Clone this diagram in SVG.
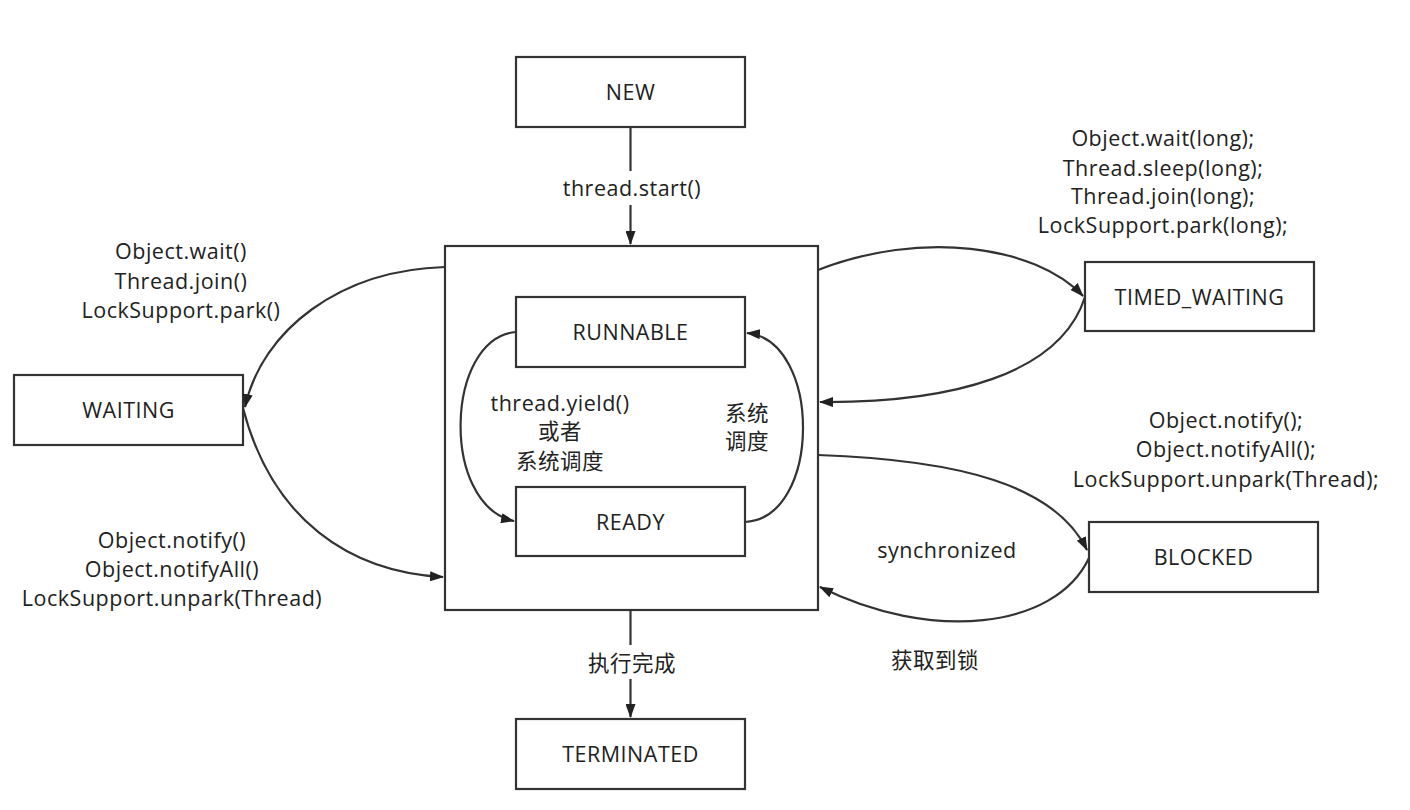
<svg xmlns="http://www.w3.org/2000/svg" width="1410" height="810" viewBox="0 0 1410 810">
<style>
.box{fill:#fff;stroke:#333;stroke-width:2.2}
.t{font-family:"Open Sans","Noto Sans CJK SC",sans-serif;font-size:21.5px;letter-spacing:0.5px;fill:#222;text-anchor:middle}
.c{fill:none;stroke:#333;stroke-width:2.2}
</style>
<defs>
<marker id="ah" viewBox="0 0 14 10" refX="13" refY="5" markerWidth="14" markerHeight="10" markerUnits="userSpaceOnUse" orient="auto">
<path d="M0,0 L14,5 L0,10 z" fill="#222"/>
</marker>
</defs>
<rect width="1410" height="810" fill="#fff"/>
<g id="container"><rect class="box" x="445" y="246" width="373" height="364"/></g>
<g id="new"><rect class="box" x="516" y="57" width="229" height="70"/><text class="t" x="630.5" y="100">NEW</text></g>
<g id="runnable"><rect class="box" x="516" y="297" width="229" height="70"/><text class="t" x="630.5" y="340">RUNNABLE</text></g>
<g id="ready"><rect class="box" x="516" y="487" width="229" height="69"/><text class="t" x="630.5" y="530">READY</text></g>
<g id="terminated"><rect class="box" x="516" y="719" width="229" height="70"/><text class="t" x="630.5" y="762">TERMINATED</text></g>
<g id="waiting"><rect class="box" x="14" y="375" width="229" height="70"/><text class="t" x="128.5" y="418">WAITING</text></g>
<g id="timed_waiting"><rect class="box" x="1085" y="262" width="229" height="69"/><text class="t" x="1199.5" y="305">TIMED_WAITING</text></g>
<g id="blocked"><rect class="box" x="1089" y="522" width="229" height="70"/><text class="t" x="1203.5" y="565">BLOCKED</text></g>
<g id="connectors">
<path class="c" d="M630.5,127 V171"/>
<path class="c" d="M630.5,205 V244" marker-end="url(#ah)"/>
<path class="c" d="M630.5,610 V645"/>
<path class="c" d="M630.5,679 V717" marker-end="url(#ah)"/>
<path class="c" d="M445,267 C340,270 262,330 245,407" marker-end="url(#ah)"/>
<path class="c" d="M243,408 C272,520 350,572 443,577" marker-end="url(#ah)"/>
<path class="c" d="M818,270 C920,230 1035,245 1083,296" marker-end="url(#ah)"/>
<path class="c" d="M1085,297 C1060,375 950,403 820,402" marker-end="url(#ah)"/>
<path class="c" d="M818,455 C960,460 1055,485 1087,550" marker-end="url(#ah)"/>
<path class="c" d="M1089,558 C1055,630 930,642 820,587" marker-end="url(#ah)"/>
<path class="c" d="M516,332 C445,338 440,505 514,521" marker-end="url(#ah)"/>
<path class="c" d="M745,522 C822,518 822,340 747,333" marker-end="url(#ah)"/>
</g>
<g id="labels">
<text class="t" x="632" y="196">thread.start()</text>
<text class="t" x="632" y="671">执行完成</text>
<text class="t" x="181" y="259">Object.wait()</text>
<text class="t" x="181" y="289">Thread.join()</text>
<text class="t" x="181" y="318">LockSupport.park()</text>
<text class="t" x="172" y="548">Object.notify()</text>
<text class="t" x="172" y="577">Object.notifyAll()</text>
<text class="t" x="172" y="606">LockSupport.unpark(Thread)</text>
<text class="t" x="1163" y="146">Object.wait(long);</text>
<text class="t" x="1163" y="176">Thread.sleep(long);</text>
<text class="t" x="1163" y="204">Thread.join(long);</text>
<text class="t" x="1163" y="233">LockSupport.park(long);</text>
<text class="t" x="1226" y="428">Object.notify();</text>
<text class="t" x="1226" y="457">Object.notifyAll();</text>
<text class="t" x="1226" y="487">LockSupport.unpark(Thread);</text>
<text class="t" x="947" y="558">synchronized</text>
<text class="t" x="935" y="668">获取到锁</text>
<text class="t" x="560" y="411">thread.yield()</text>
<text class="t" x="560" y="439">或者</text>
<text class="t" x="560" y="469">系统调度</text>
<text class="t" x="747" y="421">系统</text>
<text class="t" x="747" y="449">调度</text>
</g>
</svg>
